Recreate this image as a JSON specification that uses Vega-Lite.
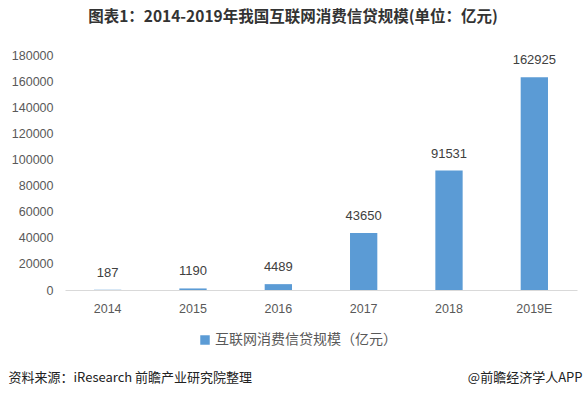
{
  "$schema": "https://vega.github.io/schema/vega-lite/v6.json",
  "autosize": "none",
  "width": 512,
  "height": 235,
  "padding": {"left": 65, "top": 55, "right": 8, "bottom": 107},
  "background": "white",
  "config": {
    "view": {"stroke": null},
    "font": "Noto Sans CJK SC"
  },
  "title": {
    "text": "图表1：2014-2019年我国互联网消费信贷规模(单位：亿元)",
    "fontSize": 15.5,
    "fontWeight": "bold",
    "color": "#333333",
    "anchor": "middle",
    "dx": -28,
    "offset": 24,
    "font": "Noto Sans CJK SC"
  },
  "data": {
    "values": [
      {"year": "2014", "value": 187, "series": "互联网消费信贷规模（亿元）"},
      {"year": "2015", "value": 1190, "series": "互联网消费信贷规模（亿元）"},
      {"year": "2016", "value": 4489, "series": "互联网消费信贷规模（亿元）"},
      {"year": "2017", "value": 43650, "series": "互联网消费信贷规模（亿元）"},
      {"year": "2018", "value": 91531, "series": "互联网消费信贷规模（亿元）"},
      {"year": "2019E", "value": 162925, "series": "互联网消费信贷规模（亿元）"}
    ]
  },
  "encoding": {
    "x": {
      "field": "year",
      "type": "nominal",
      "sort": null,
      "scale": {"paddingInner": 0.68, "paddingOuter": 0.34},
      "axis": {
        "labelAngle": 0,
        "labelFontSize": 12.5,
        "labelColor": "#595959",
        "labelFont": "Liberation Sans",
        "labelPadding": 12,
        "ticks": false,
        "domainColor": "#d9d9d9",
        "domainWidth": 1,
        "title": "资料来源：iResearch 前瞻产业研究院整理",
        "titleX": -57,
        "titleY": 87,
        "titleAlign": "left",
        "titleBaseline": "middle",
        "titleFontSize": 13,
        "titleFontWeight": "normal",
        "titleColor": "#222222",
        "titleFont": "Noto Sans CJK SC"
      }
    },
    "y": {
      "field": "value",
      "type": "quantitative",
      "scale": {"domain": [0, 180000]},
      "axis": {
        "values": [0, 20000, 40000, 60000, 80000, 100000, 120000, 140000, 160000, 180000],
        "format": "d",
        "grid": false,
        "domain": false,
        "ticks": false,
        "labelFontSize": 12.5,
        "labelColor": "#595959",
        "labelFont": "Liberation Sans",
        "labelPadding": 12,
        "title": "@前瞻经济学人APP",
        "titleAngle": 0,
        "titleX": 517,
        "titleY": 322,
        "titleAlign": "right",
        "titleBaseline": "middle",
        "titleFontSize": 13,
        "titleFontWeight": "normal",
        "titleColor": "#222222",
        "titleFont": "Noto Sans CJK SC"
      }
    }
  },
  "layer": [
    {
      "mark": {"type": "bar"},
      "encoding": {
        "color": {
          "field": "series",
          "type": "nominal",
          "scale": {"range": ["#5B9BD5"]},
          "legend": {
            "title": null,
            "orient": "none",
            "legendX": 133,
            "legendY": 278,
            "symbolType": "square",
            "symbolSize": 90,
            "labelFontSize": 14,
            "labelColor": "#595959",
            "labelFont": "Noto Sans CJK SC",
            "labelOffset": 3,
            "labelLimit": 0
          }
        }
      }
    },
    {
      "mark": {"type": "text", "dy": -10, "fontSize": 13, "color": "#404040", "font": "Liberation Sans", "baseline": "bottom"},
      "encoding": {
        "text": {"field": "value", "type": "quantitative", "format": "d"}
      }
    }
  ]
}
